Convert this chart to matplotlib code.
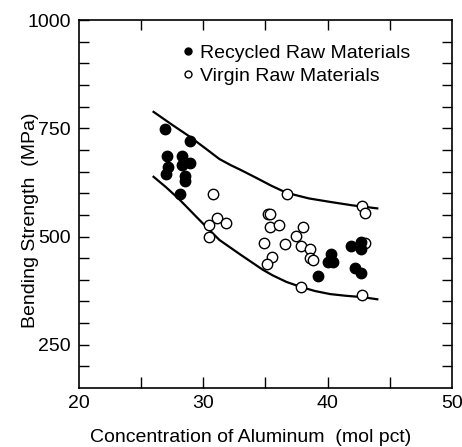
"""Bending strength vs aluminum concentration, recycled vs virgin raw materials
"""
import numpy as np
import matplotlib
matplotlib.use("Agg")
import matplotlib.pyplot as plt
from matplotlib.lines import Line2D

plt.rcParams['font.family'] = ['Liberation Sans', 'DejaVu Sans']

# ----------
# Data
# ----------
recycled_al = [26.9, 28.9, 27.1, 28.3, 27.2, 28.3, 28.9, 27.0, 28.5, 28.5, 28.1,
               40.3, 40.0, 40.4, 39.2, 41.9, 42.7, 42.7, 42.2, 42.7]
recycled_mpa = [748, 720, 686, 686, 661, 665, 669, 645, 640, 629, 598,
                460, 440, 440, 409, 477, 488, 471, 428, 415]

virgin_al = [30.8, 31.1, 30.5, 31.8, 30.5, 36.7, 35.2, 35.4, 35.4, 36.1,
             38.0, 37.5, 34.9, 36.6, 37.9, 38.6, 35.5, 38.6, 38.85, 35.1,
             37.9, 42.8, 43.0, 43.0, 42.8]
virgin_mpa = [598, 542, 527, 531, 498, 598, 553, 552, 523, 527,
              521, 502, 486, 483, 479, 471, 453, 451, 445, 436,
              383, 570, 554, 485, 364]

# upper / lower band lines
upper_al = [26.0, 27.5, 28.9, 30.2, 31.3, 32.2, 33.0, 34.3, 35.5, 36.7, 38.5, 40.2, 42.0, 44.0]
upper_mpa = [788, 758, 731, 703, 679, 665, 654, 635, 617, 601, 588, 580, 572, 565]
lower_al = [26.0, 27.0, 28.1, 29.7, 31.3, 33.0, 34.8, 35.6, 36.7, 37.9, 39.0, 40.2, 41.5, 42.8, 44.0]
lower_mpa = [638, 614, 585, 538, 492, 458, 423, 410, 395, 383, 374, 367, 363, 360, 355]

legend_entries = ["Recycled Raw Materials", "Virgin Raw Materials"]

x_major = [20, 30, 40, 50]
y_major = [250, 500, 750, 1000]

# ----------
# Figure
# ----------
fig = plt.figure(figsize=(4.62, 4.47), dpi=100)
ax = fig.add_axes([0.171, 0.132, 0.807, 0.823])

ax.plot(upper_al, upper_mpa, color='black', lw=1.6, zorder=2)
ax.plot(lower_al, lower_mpa, color='black', lw=1.6, zorder=2)

ax.plot(virgin_al, virgin_mpa, linestyle='none', marker='o', markersize=7.5,
        markerfacecolor='white', markeredgecolor='black', markeredgewidth=1.0,
        zorder=3)
ax.plot(recycled_al, recycled_mpa, linestyle='none', marker='o', markersize=7.5,
        markerfacecolor='black', markeredgecolor='black', zorder=4)

# -------
# Legend
# -------
handles = [
    Line2D([], [], linestyle='none', marker='o', markersize=5,
           markerfacecolor='black', markeredgecolor='black'),
    Line2D([], [], linestyle='none', marker='o', markersize=5,
           markerfacecolor='white', markeredgecolor='black', markeredgewidth=1.0)]
ax.legend(handles, legend_entries, loc='upper left', bbox_to_anchor=(0.245, 0.955),
          frameon=False, fontsize=14, handletextpad=0.1, handlelength=1.0,
          labelspacing=0.25, borderaxespad=0)

# -------
# Axis
# -------
ax.set_xlim(20, 50)
ax.set_ylim(150, 1000)
ax.set_xticks(x_major)
ax.set_xticks([25, 35, 45], minor=True)
ax.set_yticks(y_major)
ax.set_yticks(np.arange(200, 1000, 50), minor=True)

ax.tick_params(axis='both', which='both', direction='in', labelsize=14,
               color='black', width=1.0)
ax.tick_params(axis='x', which='both', length=8, pad=5)
ax.tick_params(axis='y', which='both', length=7, pad=6)
ax.tick_params(axis='x', which='major', length=0)
ax.tick_params(axis='x', which='minor', length=8)

# top and right ticks without labels
ax_top = ax.secondary_xaxis('top')
ax_top.set_xticks([25, 30, 35, 40, 45])
ax_top.tick_params(direction='in', length=7, labeltop=False, width=1.0)
ax_right = ax.secondary_yaxis('right')
ax_right.set_yticks(np.arange(200, 1000, 50))
ax_right.tick_params(direction='in', length=7, labelright=False, width=1.0)

# bottom major ticks at 30 and 40 (inside axis)
ax_bot = ax.secondary_xaxis('bottom')
ax_bot.set_xticks([30, 40])
ax_bot.tick_params(direction='in', length=8, labelbottom=False, width=1.0)

for spine in ax.spines.values():
    spine.set_linewidth(1.2)
for sec in (ax_top, ax_right, ax_bot):
    for spine in sec.spines.values():
        spine.set_visible(False)

# -------
# Labels
# -------
ax.set_xlabel("Concentration of Aluminum  (mol pct)", fontsize=14)
ax.set_ylabel("Bending Strength  (MPa)", fontsize=14)
ax.xaxis.set_label_coords(0.461, -0.112)
ax.yaxis.set_label_coords(-0.108, 0.455)

plt.savefig("out.png", dpi=100)
plt.close()
